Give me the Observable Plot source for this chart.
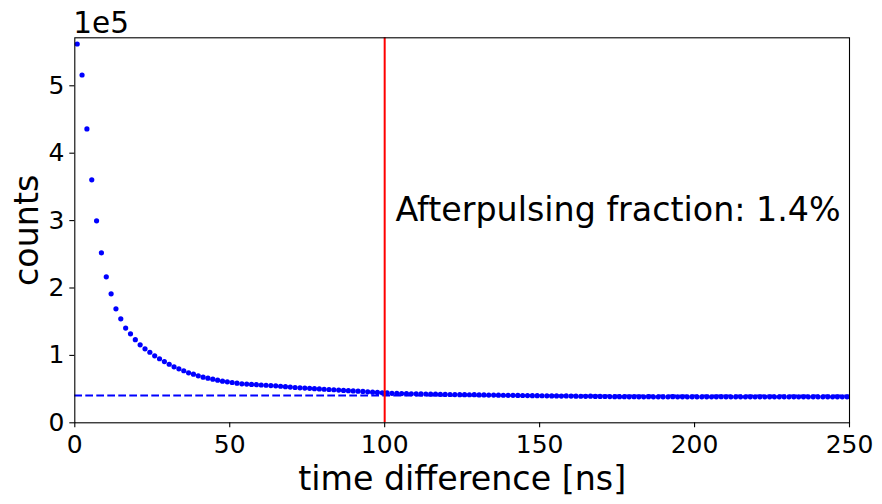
<!DOCTYPE html>
<html>
<head>
<meta charset="utf-8">
<script src="https://cdn.jsdelivr.net/npm/d3@7"></script>
<script src="https://cdn.jsdelivr.net/npm/@observablehq/plot@0.6"></script>
<style>
  html, body { margin: 0; padding: 0; background: white; }
</style>
</head>
<body>
<div id="chart"></div>
<script>
// time difference bin centres [ns]
const times = [
  0.78, 2.34, 3.91, 5.47, 7.03, 8.59, 10.16, 11.72, 13.28, 14.84,
  16.41, 17.97, 19.53, 21.09, 22.66, 24.22, 25.78, 27.34, 28.91, 30.47,
  32.03, 33.59, 35.16, 36.72, 38.28, 39.84, 41.41, 42.97, 44.53, 46.09,
  47.66, 49.22, 50.78, 52.34, 53.91, 55.47, 57.03, 58.59, 60.16, 61.72,
  63.28, 64.84, 66.41, 67.97, 69.53, 71.09, 72.66, 74.22, 75.78, 77.34,
  78.91, 80.47, 82.03, 83.59, 85.16, 86.72, 88.28, 89.84, 91.41, 92.97,
  94.53, 96.09, 97.66, 99.22, 100.78, 102.34, 103.91, 105.47, 107.03, 108.59,
  110.16, 111.72, 113.28, 114.84, 116.41, 117.97, 119.53, 121.09, 122.66, 124.22,
  125.78, 127.34, 128.91, 130.47, 132.03, 133.59, 135.16, 136.72, 138.28, 139.84,
  141.41, 142.97, 144.53, 146.09, 147.66, 149.22, 150.78, 152.34, 153.91, 155.47,
  157.03, 158.59, 160.16, 161.72, 163.28, 164.84, 166.41, 167.97, 169.53, 171.09,
  172.66, 174.22, 175.78, 177.34, 178.91, 180.47, 182.03, 183.59, 185.16, 186.72,
  188.28, 189.84, 191.41, 192.97, 194.53, 196.09, 197.66, 199.22, 200.78, 202.34,
  203.91, 205.47, 207.03, 208.59, 210.16, 211.72, 213.28, 214.84, 216.41, 217.97,
  219.53, 221.09, 222.66, 224.22, 225.78, 227.34, 228.91, 230.47, 232.03, 233.59,
  235.16, 236.72, 238.28, 239.84, 241.41, 242.97, 244.53, 246.09, 247.66, 249.22
];

// counts per bin
const counts = [
  562000, 516000, 436000, 360500, 299700, 252200, 216600, 191400, 169100, 154300,
  140500, 132000, 123300, 115700, 109800, 104700, 99400, 95000, 90900, 86900,
  83100, 80100, 77200, 74200, 72100, 69700, 67700, 66200, 64700, 63200,
  61700, 60800, 59800, 58800, 57800, 57400, 57000, 56600, 56100, 55700,
  55300, 54800, 54200, 53600, 53000, 52400, 51900, 51500, 51100, 50700,
  50200, 49800, 49400, 49000, 48600, 48100, 47700, 47300, 46900, 46500,
  46000, 45500, 45000, 44500, 44400, 43800, 43600, 43400, 43300, 43100,
  43000, 42800, 42700, 42600, 42400, 42300, 42100, 42000, 41900, 41800,
  41700, 41600, 41800, 41400, 41300, 41200, 41100, 41000, 40900, 40800,
  40700, 40600, 40500, 40400, 40300, 40200, 40100, 40000, 39900, 39800,
  39700, 39900, 39600, 39500, 39400, 39300, 39500, 39200, 39100, 39000,
  38900, 38800, 38700, 38700, 38600, 38700, 38600, 38600, 38700, 38600,
  38500, 38600, 38600, 38700, 38600, 38600, 38500, 38600, 38600, 38600,
  38500, 38600, 38600, 38700, 38600, 38500, 38600, 38600, 38600, 38500,
  38600, 38600, 38500, 38600, 38600, 38500, 38600, 38600, 38600, 38500,
  38600, 38500, 38600, 38600, 38500, 38600, 38500, 38600, 38500, 38500
];

const backgroundLevel = [40500];      // dashed horizontal line
const windowEdge = [100];             // red vertical line [ns]
const xTicks = [0, 50, 100, 150, 200, 250];
const yTicks = [0, 100000, 200000, 300000, 400000, 500000];
const annotation = [{t: 103.5, c: 300000, label: "Afterpulsing fraction: 1.4%"}];
const xLabel = ["time difference [ns]"];
const yLabel = ["counts"];
const offsetLabel = ["1e5"];

const data = times.map((t, i) => ({t, c: counts[i]}));

const chart = Plot.plot({
  width: 882,
  height: 504,
  marginLeft: 74.3,
  marginRight: 33,
  marginTop: 37.3,
  marginBottom: 81.7,
  style: {fontFamily: "'DejaVu Sans', sans-serif", background: "white", color: "black", overflow: "visible"},
  x: {domain: [0, 250]},
  y: {domain: [0, 571200]},
  marks: [
    Plot.axisX({ticks: xTicks, tickSize: 5, tickPadding: 7, fontSize: 25, label: null, strokeWidth: 1.1, tickFormat: d => String(d)}),
    Plot.axisY({ticks: yTicks, tickSize: 5, tickPadding: 5.5, fontSize: 25, label: null, strokeWidth: 1.1, tickFormat: d => String(d / 1e5)}),
    Plot.ruleY(backgroundLevel, {y: d => d, stroke: "#0000ff", strokeWidth: 2, strokeDasharray: "7.7,3.3"}),
    Plot.dot(data, {x: "t", y: "c", r: 2.6, fill: "#0000ff", stroke: "none"}),
    Plot.ruleX(windowEdge, {x: d => d, stroke: "#ff0000", strokeWidth: 2}),
    Plot.frame({stroke: "black", strokeWidth: 1.1}),
    Plot.text(annotation, {x: "t", y: "c", text: "label", textAnchor: "start", lineAnchor: "middle", fontSize: 33.3, dy: -10.6, fill: "black"}),
    Plot.text(xLabel, {text: d => d, frameAnchor: "bottom", textAnchor: "middle", lineAnchor: "middle", dy: 56.5, fontSize: 33.3, fill: "black"}),
    Plot.text(yLabel, {text: d => d, frameAnchor: "left", textAnchor: "middle", lineAnchor: "middle", rotate: -90, dx: -47.5, fontSize: 33.3, fill: "black"}),
    Plot.text(offsetLabel, {text: d => d, frameAnchor: "top-left", textAnchor: "start", lineAnchor: "middle", dx: -1.5, dy: -14.5, fontSize: 29.5, fill: "black"})
  ]
});

document.getElementById("chart").appendChild(chart);
</script>
</body>
</html>
